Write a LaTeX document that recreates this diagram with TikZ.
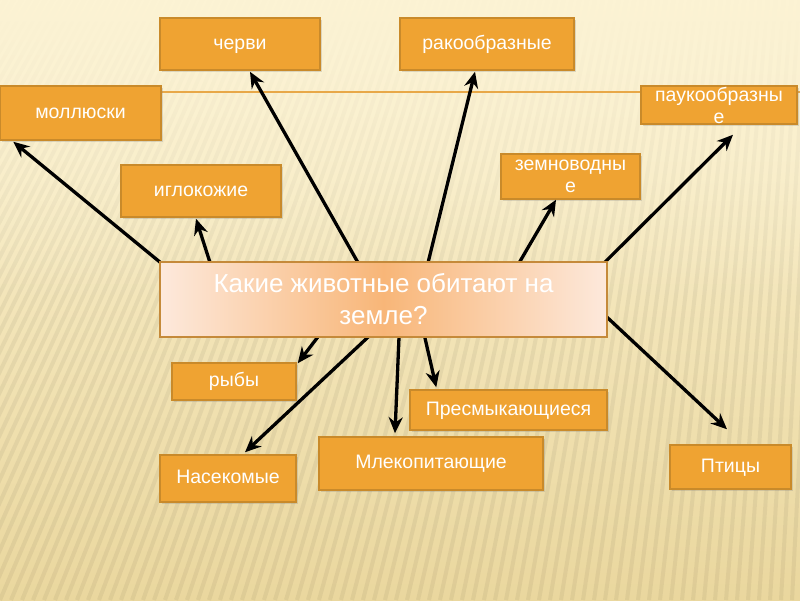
\documentclass[tikz,border=0pt]{standalone}
\usepackage{fontspec}
\setmainfont{Liberation Sans}
\usetikzlibrary{arrows.meta,calc,shadows,fadings}
\definecolor{bgtop}{HTML}{FCF3D4}
\definecolor{bgbot}{HTML}{EAD79E}
\definecolor{boxfill}{HTML}{EFA332}
\definecolor{boxline}{HTML}{C98A2A}
\definecolor{hline}{HTML}{E8A848}
\definecolor{qin}{HTML}{F8B678}
\definecolor{qout}{HTML}{FDE9DC}
\definecolor{qline}{HTML}{C58A3A}
\tikzfading[name=topfade, top color=transparent!0, bottom color=transparent!100]
\tikzset{
  ibox/.style={draw=boxline, line width=1.5pt, fill=boxfill, text=white,
    font=\fontsize{19.5}{22}\selectfont, inner sep=0pt, align=center,
    drop shadow={opacity=0.25, shadow xshift=2pt, shadow yshift=-2pt}},
  onerow/.style={text height=14pt, text depth=4pt},
  qbox/.style={draw=qline, line width=1.5pt, left color=qout, right color=qout,
    middle color=qin, text=white, font=\fontsize{26}{32}\selectfont,
    inner sep=0pt, align=center},
  arr/.style={line width=3.3pt, black, -{Stealth[length=16pt,width=14pt]}},
  stripe/.style={line width=4pt, black, opacity=0.05}
}
\begin{document}
\begin{tikzpicture}[x=1pt,y=-1pt]
\useasboundingbox (0,0) rectangle (800,600);
% background
\shade[top color=bgtop, bottom color=bgbot] (0,0) rectangle (800,600);
\begin{scope}
  \clip (0,0) rectangle (800,600);
  \foreach \i in {-60,...,90} {
    \draw[stripe] (900,-1500) -- ($(900,-1500)!1!(\i*11,600)$);
  }
\end{scope}
\fill[bgtop, path fading=topfade] (-1,-1) rectangle (801,300);
\draw[hline, line width=1.5pt] (0,92) -- (800,92);

% boxes
\node[ibox, onerow, minimum width=161pt, minimum height=54pt] (mol) at (80.5,113) {моллюски};
\node[ibox, onerow, minimum width=160pt, minimum height=52pt] (cher) at (240,44) {черви};
\node[ibox, onerow, minimum width=174pt, minimum height=52pt] (rak) at (487,44) {ракообразные};
\node[ibox, minimum width=156pt, minimum height=38pt] (pauk) at (719,105) {паукообразны\\е};
\node[ibox, onerow, minimum width=160pt, minimum height=52pt] (igl) at (201,191) {иглокожие};
\node[ibox, minimum width=139pt, minimum height=45pt] (zem) at (570.5,176.5) {земноводны\\е};
\node[ibox, onerow, minimum width=124pt, minimum height=37pt] (ryb) at (234,381.5) {рыбы};
\node[ibox, onerow, minimum width=197pt, minimum height=40pt] (pres) at (508.5,410) {Пресмыкающиеся};
\node[ibox, onerow, minimum width=136pt, minimum height=47pt] (nas) at (228,478.5) {Насекомые};
\node[ibox, onerow, minimum width=224pt, minimum height=53pt] (mlek) at (431,463.5) {Млекопитающие};
\node[ibox, onerow, minimum width=121pt, minimum height=44pt] (pt) at (730.5,467) {Птицы};

% start points (hidden under the question box)
\coordinate (smol) at (172,272);
\coordinate (sigl) at (214,275);
\coordinate (scher) at (365,275);
\coordinate (srak) at (425,275);
\coordinate (szem) at (512,275);
\coordinate (spauk) at (592,275);
\coordinate (sryb) at (327,325);
\coordinate (snas) at (381,325);
\coordinate (smlek) at (399.5,325);
\coordinate (spres) at (422,325);
\coordinate (spt) at (595,306);

\draw[arr] (smol) -- ($(mol.south west)+(14,1)$);
\draw[arr] (sigl) -- ($(igl.south)+(-5,1)$);
\draw[arr] (scher) -- ($(cher.south)+(10,1)$);
\draw[arr] (srak) -- ($(rak.south)+(-12,1)$);
\draw[arr] (szem) -- ($(zem.south)+(-14.5,0)$);
\draw[arr] (spauk) -- ($(pauk.south)+(14,10)$);
\draw[arr] (sryb) -- ($(ryb.north east)+(1,1)$);
\draw[arr] (snas) -- ($(nas.north)+(17,-2)$);
\draw[arr] (smlek) -- ($(mlek.north)+(-36,-3)$);
\draw[arr] (spres) -- ($(pres.north west)+(27,-2)$);
\draw[arr] (spt) -- ($(pt.north)+(-3.5,-15)$);

% question box
\node[qbox, minimum width=447pt, minimum height=75pt] (q) at (383.5,299.5)
  {Какие животные обитают на\\земле?};
\end{tikzpicture}
\end{document}
